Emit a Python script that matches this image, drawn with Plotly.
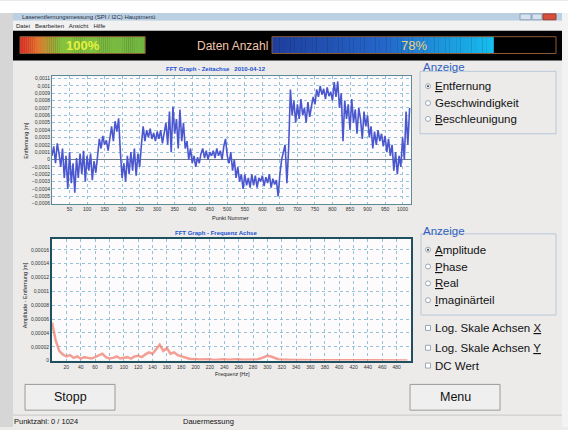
import plotly.graph_objects as go

W, H = 568, 430
def px(x): return x / W
def py(y): return 1 - y / H

# ---------------- data ----------------
point_step = 5          # one value read every 5 points
# distance in units of 1e-4 m
distance_e4 = [
    0.5, 1.8, -0.5, 2.2, 0.8, -1.0,
    1.5, -2.5, 0.5, -4.0, 1.0, -3.2, -0.5, -4.5, 0.2,
    -2.5, 0.8, -2.0, 1.2, -3.0, 0.5, -1.5, 0.8, -2.8, -0.2, -1.8, 0.5,
    2.8, 1.5, 3.2, 2.0, 2.6, 1.2,
    3.0, 4.5, 2.5, 5.2, 3.8, 5.6,
    1.0, -2.5, -0.5, -3.0,
    0.5, -2.0, 1.0, -1.5, 1.5, -2.2, 0.8, -1.0, 2.0,
    4.5, 2.5, 4.0, 3.0, 4.2, 2.8, 3.6, 2.5, 3.8,
    2.8, 4.0, 2.2, 3.5, 5.0, 2.0, 6.5, 1.0,
    7.2, 3.5, 5.5, 1.5, 6.8, 2.5, 5.0, 1.5,
    2.5, 0.0, 1.5, -0.5, 0.5, -1.0, 0.3, -0.5,
    0.8, 1.5, 0.2, 1.2, 0.0, 1.0, 0.5, 1.2,
    0.2, 1.5, 0.5, 1.2, 0.0, 1.8, 2.8, 0.5,
    -0.5, 1.0, -1.5, 0.0, -2.5, -1.0, -3.0, -2.0,
    -4.0, -2.0, -3.5, -2.5,
    -3.8, -2.0, -3.5, -2.2, -3.8, -2.5, -3.0, -2.2, -3.6, -2.4, -3.2, -2.0, -3.8, -2.6, -3.4, -2.8,
    -5.0, -2.0, 0.0,
    1.0, 2.0, -3.2, 1.5, 9.5,
    6.0, 8.0, 5.0, 7.5, 5.5, 8.2, 6.0, 7.0, 5.0, 7.8, 5.8, 7.2,
    8.5, 7.5, 9.5, 8.5, 10.0, 8.8, 9.6, 8.2, 9.8, 8.6, 9.2, 8.0,
    10.5, 8.5, 10.6,
    7.0, 9.0, 2.5, 8.0, 5.5, 7.5, 4.0, 8.2, 5.0,
    6.8, 3.5, 7.0, 5.5, 2.8, 6.5, 4.5, 6.0,
    3.0, 4.5, 1.5, 3.8, 2.0, 4.0, 2.5, 3.5,
    1.8, 3.2, 1.0, 2.8, 0.5, 2.0,
    -1.5, 1.0, -2.0, 0.5, -1.0,
    3.0, 0.0, 6.5, 2.0, 7.0,
]

freq_step_hz = 5
# FFT amplitude in units of 1e-6 m
amplitude_e6 = [
    55, 30, 14, 9, 6, 8, 4, 6, 3, 5, 4, 3, 5, 8, 10, 5, 3, 4, 6, 3,
    4, 5, 3, 6, 7, 5, 9, 12, 10, 16, 23, 14, 18, 10, 12, 8, 6, 4, 3, 2,
    2.5, 1.5, 2, 1.5, 2, 1, 1.5, 1, 2, 1.2, 1.5, 1, 2, 1.2, 1.5, 1, 2, 1.5, 3, 5,
    7, 6, 4, 2, 1.5, 1, 1.2, 0.8, 1, 0.8, 1, 0.7, 0.9, 0.6, 0.8, 0.6, 0.7, 0.5, 0.7, 0.5,
    0.6, 0.5, 0.6, 0.4, 0.5, 0.4, 0.5, 0.4, 0.5, 0.4, 0.4, 0.3, 0.4, 0.3, 0.4, 0.3, 0.3, 0.3, 0.3, 0.3,
]

time_ticks = list(range(50, 1001, 50))
freq_ticks = list(range(20, 481, 20))
progress_left = 100
progress_right = 78

dist_x = [i * point_step for i in range(len(distance_e4))]
dist_y = [v * 1e-4 for v in distance_e4]
freq_x = [i * freq_step_hz for i in range(len(amplitude_e6))]
amp_y = [v * 1e-6 for v in amplitude_e6]

FONT = "Liberation Sans, Arial, sans-serif"

fig = go.Figure()
fig.add_trace(go.Scatter(x=dist_x, y=dist_y, mode="lines",
                         line=dict(color="#4b57cf", width=1.6),
                         xaxis="x", yaxis="y", showlegend=False))
fig.add_trace(go.Scatter(x=freq_x, y=amp_y, mode="lines",
                         line=dict(color="rgba(240,120,105,0.7)", width=2.5),
                         xaxis="x2", yaxis="y2", showlegend=False))

grid = dict(showgrid=True, gridcolor="#93c2da", griddash="dot", gridwidth=1)
tickf = dict(family=FONT, size=5, color="#333333")

fig.update_layout(
    width=W, height=H, margin=dict(l=0, r=0, t=0, b=0),
    paper_bgcolor="#ecebea", plot_bgcolor="#fdfbfb",
    separators=",.",
    xaxis=dict(domain=[px(52), px(411)], range=[0, 1024], anchor="y",
               tickmode="array", tickvals=time_ticks, tickfont=tickf,
               showline=True, mirror=True, linecolor="#5b8a98", linewidth=1,
               zeroline=False, ticks="", **grid),
    yaxis=dict(domain=[py(205), py(76)], range=[-0.000605, 0.00113], anchor="x",
               dtick=0.0001, tick0=0, tickformat=".4~f", tickfont=tickf,
               showline=True, mirror=True, linecolor="#5b8a98", linewidth=1,
               zeroline=True, zerolinecolor="#6f7f88", zerolinewidth=1, ticks="", **grid),
    xaxis2=dict(domain=[px(52), px(411)], range=[0, 500], anchor="y2",
                tickmode="array", tickvals=freq_ticks, tickfont=tickf,
                showline=True, mirror=True, linecolor="#1f5060", linewidth=2,
                zeroline=False, ticks="", **grid),
    yaxis2=dict(domain=[py(363), py(240)], range=[0, 0.000176], anchor="x2",
                dtick=0.00002, tick0=0, tickformat=".5~f", tickfont=tickf,
                showline=True, mirror=True, linecolor="#1f5060", linewidth=2,
                zeroline=False, ticks="", **grid),
)

shapes = []
def rect(x0, y0, x1, y1, fill=None, line=None, lw=1, layer="below"):
    shapes.append(dict(type="rect", xref="paper", yref="paper",
                       x0=px(x0), x1=px(x1), y0=py(y1), y1=py(y0),
                       fillcolor=fill if fill else "rgba(0,0,0,0)",
                       line=dict(color=line if line else "rgba(0,0,0,0)", width=lw if line else 0),
                       layer=layer))
def hline(x0, x1, y, color, lw=1):
    shapes.append(dict(type="line", xref="paper", yref="paper", x0=px(x0), x1=px(x1),
                       y0=py(y), y1=py(y), line=dict(color=color, width=lw)))

# window chrome
rect(0, 0, 568, 12, "#ffffff")
rect(0, 12, 13, 430, "#d6d6d6")
rect(562, 12, 568, 430, "#f3f3f3")
rect(13, 12, 562, 20, "#bcd0e4")
rect(13, 20, 562, 30, "#f1f1f1")
rect(13, 30, 562, 60, "#000000")
# title bar buttons
rect(520, 13, 531, 19, "#d6e2ee", "#8aa0b8")
rect(532, 13, 542, 19, "#d6e2ee", "#8aa0b8")
rect(543, 13, 556, 19, "#d8503c", "#9a3a2a")

def lerp_color(stops, t):
    for (t0, c0), (t1, c1) in zip(stops, stops[1:]):
        if t <= t1:
            f = (t - t0) / (t1 - t0) if t1 > t0 else 0
            a = [int(c0[i:i+2], 16) for i in (1, 3, 5)]
            b = [int(c1[i:i+2], 16) for i in (1, 3, 5)]
            return "rgb(%d,%d,%d)" % tuple(round(a[k] + (b[k] - a[k]) * f) for k in range(3))
    return stops[-1][1]

def progress(x0, x1, y0, y1, pct, stops, n=60):
    xe = x0 + (x1 - x0) * pct / 100
    for i in range(n):
        a = x0 + (xe - x0) * i / n
        b = x0 + (xe - x0) * (i + 1) / n + 0.3
        rect(a, y0, b, y1, lerp_color(stops, i / (n - 1)))
    rect(x0, y0, x1, y1, None, "#8a5a32", 1)

progress(20, 145, 36, 53, progress_left,
         [(0, "#e3342a"), (0.12, "#e8702e"), (0.32, "#86c23e"), (1, "#72b642")])
progress(272, 556, 36, 53, progress_right,
         [(0, "#1f3f9e"), (0.5, "#2466c8"), (1, "#16bdee")])

# group boxes
rect(420, 71, 556, 134, None, "#b8c8d8", 1)
rect(421, 235, 556, 317, None, "#b8c8d8", 1)
# buttons
rect(25, 387, 115, 413, "#efefef", "#9a9a9a", 1)
rect(410, 387, 500, 413, "#efefef", "#9a9a9a", 1)
hline(13, 562, 418, "#c8c8c8")

# radio buttons and checkboxes
def radio(y, sel):
    shapes.append(dict(type="circle", xref="paper", yref="paper",
                       x0=px(425.5), x1=px(430.5), y0=py(y + 2.5), y1=py(y - 2.5),
                       fillcolor="#ffffff", line=dict(color="#9aa8b8", width=1)))
    if sel:
        shapes.append(dict(type="circle", xref="paper", yref="paper",
                           x0=px(427), x1=px(429), y0=py(y + 1), y1=py(y - 1),
                           fillcolor="#303030", line=dict(width=0)))
def check(y):
    rect(425.5, y - 2.5, 430.5, y + 2.5, "#ffffff", "#9aa8b8", 1, layer="above")

radio_items1 = ["<span style='text-decoration:underline'>E</span>ntfernung",
                "Geschwindigkeit",
                "<span style='text-decoration:underline'>B</span>eschleunigung"]
radio_items2 = ["<span style='text-decoration:underline'>A</span>mplitude",
                "<span style='text-decoration:underline'>P</span>hase",
                "<span style='text-decoration:underline'>R</span>eal",
                "<span style='text-decoration:underline'>I</span>maginärteil"]
check_items = ["Log. Skale Achsen <span style='text-decoration:underline'>X</span>",
               "Log. Skale Achsen <span style='text-decoration:underline'>Y</span>",
               "DC Wert"]

ann = []
def text(x, y, s, size=11, color="#111111", anchor="left", angle=0, bold=False):
    ann.append(dict(x=px(x), y=py(y), xref="paper", yref="paper", text=("<b>%s</b>" % s) if bold else s,
                    showarrow=False, xanchor=anchor, yanchor="middle", textangle=angle,
                    font=dict(family=FONT, size=size, color=color)))

for i, (lab, y) in enumerate(zip(radio_items1, [86, 103, 119])):
    radio(y, i == 0)
    text(433, y, lab, 11.5)
for i, (lab, y) in enumerate(zip(radio_items2, [251, 268, 285, 302])):
    radio(y, i == 0)
    text(433, y, lab, 11.5)
for lab, y in zip(check_items, [330, 350, 368]):
    check(y)
    text(433, y, lab, 11.5)

text(421, 67, "Anzeige", 11.5, "#2f5fc0")
text(421, 232, "Anzeige", 11.5, "#2f5fc0")

text(20, 16, "Laserentfernungsmessung (SPI / I2C) Hauptmenü", 6, "#1c2c3c")
text(14, 25, "Datei   Bearbeiten   Ansicht   Hilfe", 6, "#1c1c1c")
text(83, 45, "100%", 13, "#e6f03c", "center", bold=True)
text(232, 45, "Daten Anzahl", 12, "#f2c6ac", "center")
text(414, 45, "78%", 13, "#f0d27a", "center")

text(216, 69, "FFT Graph - Zeitachse   2010-04-12", 6, "#2050d0", "center", bold=True)
text(216, 234, "FFT Graph - Frequenz Achse", 6, "#2050d0", "center", bold=True)
text(230, 219, "Punkt Nummer", 5.5, "#222222", "center")
text(232, 376, "Frequenz [Hz]", 5.5, "#222222", "center")
text(26, 141, "Entfernung [m]", 5.5, "#222222", "center", angle=-90)
text(25, 297, "Amplitude - Entfernung [m]", 5.5, "#222222", "center", angle=-90)

text(70, 400, "Stopp", 12.5, "#111111", "center")
text(455, 400, "Menu", 12.5, "#111111", "center")
text(12, 424, "Punktzahl: 0 / 1024", 7.5, "#111111")
text(181, 424, "Dauermessung", 7.5, "#111111")

fig.update_layout(shapes=shapes, annotations=ann)
fig.write_html("out.html", config={"displayModeBar": False},
               post_script="document.body.style.margin='0';document.body.style.overflow='hidden';")
